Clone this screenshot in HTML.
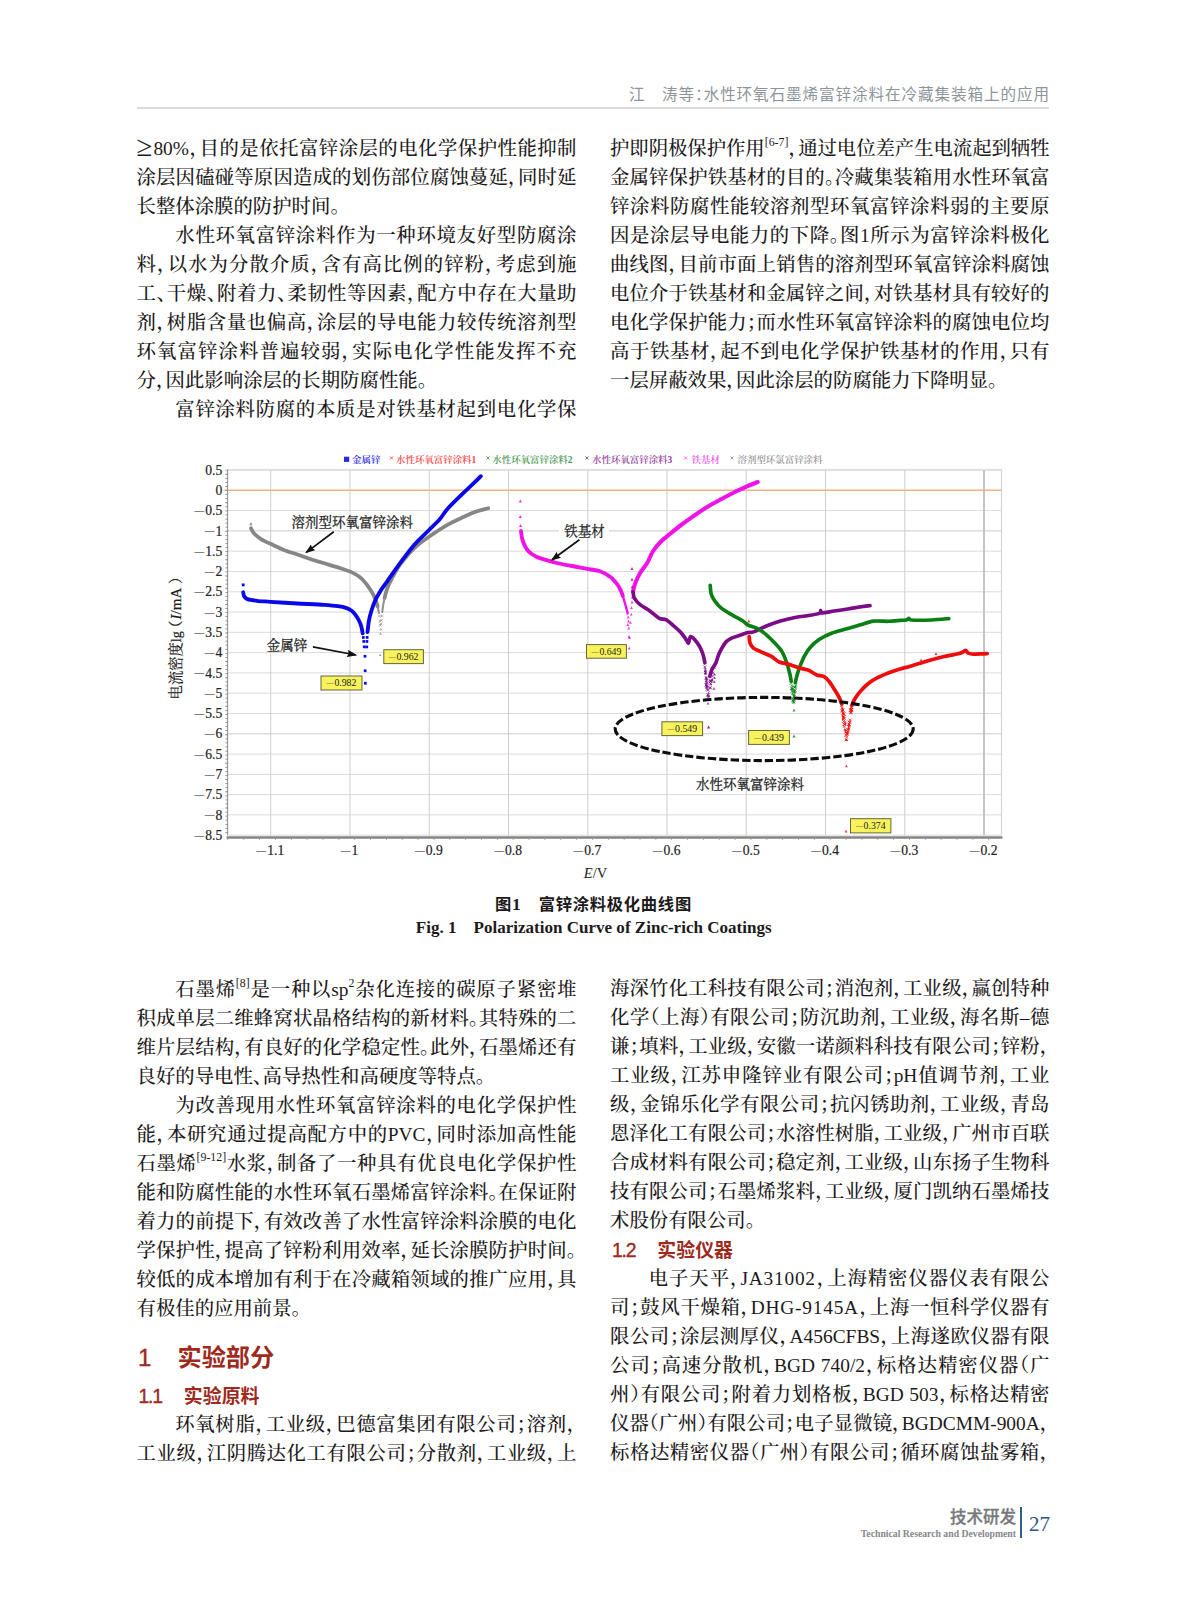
<!DOCTYPE html>
<html lang="zh-CN">
<head>
<meta charset="utf-8">
<title>水性环氧石墨烯富锌涂料在冷藏集装箱上的应用</title>
<style>
html,body{margin:0;padding:0;background:#fff;}
body{width:1187px;height:1600px;position:relative;overflow:hidden;font-family:"Liberation Serif","Noto Serif CJK SC",serif;color:#1d1a1b;}
.l{position:absolute;height:29px;line-height:29px;font-size:19.4px;white-space:nowrap;text-align:justify;text-align-last:justify;font-feature-settings:"halt";font-weight:500;}
.l.e{text-align:left;text-align-last:left;}
.l sup{font-size:11.9px;line-height:0;vertical-align:9.3px;letter-spacing:0;font-weight:400}
.hd{position:absolute;font-family:"Liberation Sans","Noto Sans CJK SC",sans-serif;white-space:nowrap;}
.red{color:#9e2a1d;font-weight:700;}
.red .n{font-weight:400;-webkit-text-stroke:0.35px #9e2a1d;}
</style>
</head>
<body>
<div class="hd" style="left:629px;top:83.8px;width:420px;height:22px;line-height:22px;font-size:15.6px;font-weight:400;color:#8d959b;text-align:justify;text-align-last:justify;font-feature-settings:'halt';">江　涛等：水性环氧石墨烯富锌涂料在冷藏集装箱上的应用</div>
<div style="position:absolute;left:137px;top:107px;width:912px;height:1.6px;background:#d9dadb"></div>
<div class="l" style="left:136.5px;top:134.0px;width:440.0px"><span style="font-size:29px;line-height:1px;vertical-align:-0.5px;margin-right:1px">≥</span>80%，目的是依托富锌涂层的电化学保护性能抑制</div>
<div class="l" style="left:136.5px;top:163.0px;width:440.0px">涂层因磕碰等原因造成的划伤部位腐蚀蔓延，同时延</div>
<div class="l e" style="left:136.5px;top:192.0px;width:440.0px">长整体涂膜的防护时间。</div>
<div class="l" style="left:175.3px;top:221.0px;width:401.2px">水性环氧富锌涂料作为一种环境友好型防腐涂</div>
<div class="l" style="left:136.5px;top:250.0px;width:440.0px">料，以水为分散介质，含有高比例的锌粉，考虑到施</div>
<div class="l" style="left:136.5px;top:279.0px;width:440.0px">工、干燥、附着力、柔韧性等因素，配方中存在大量助</div>
<div class="l" style="left:136.5px;top:308.0px;width:440.0px">剂，树脂含量也偏高，涂层的导电能力较传统溶剂型</div>
<div class="l" style="left:136.5px;top:337.0px;width:440.0px">环氧富锌涂料普遍较弱，实际电化学性能发挥不充</div>
<div class="l e" style="left:136.5px;top:366.0px;width:440.0px">分，因此影响涂层的长期防腐性能。</div>
<div class="l" style="left:175.3px;top:395.0px;width:401.2px">富锌涂料防腐的本质是对铁基材起到电化学保</div>
<div class="l" style="left:610.0px;top:134.0px;width:439.5px"><span style="letter-spacing:-0.08px">护即阴极保护作用<sup>[6-7]</sup>，通过电位差产生电流起到牺牲</span></div>
<div class="l" style="left:610.0px;top:163.0px;width:439.5px">金属锌保护铁基材的目的。冷藏集装箱用水性环氧富</div>
<div class="l" style="left:610.0px;top:192.0px;width:439.5px">锌涂料防腐性能较溶剂型环氧富锌涂料弱的主要原</div>
<div class="l" style="left:610.0px;top:221.0px;width:439.5px">因是涂层导电能力的下降。图1所示为富锌涂料极化</div>
<div class="l" style="left:610.0px;top:250.0px;width:439.5px">曲线图，目前市面上销售的溶剂型环氧富锌涂料腐蚀</div>
<div class="l" style="left:610.0px;top:279.0px;width:439.5px">电位介于铁基材和金属锌之间，对铁基材具有较好的</div>
<div class="l" style="left:610.0px;top:308.0px;width:439.5px">电化学保护能力；而水性环氧富锌涂料的腐蚀电位均</div>
<div class="l" style="left:610.0px;top:337.0px;width:439.5px">高于铁基材，起不到电化学保护铁基材的作用，只有</div>
<div class="l e" style="left:610.0px;top:366.0px;width:439.5px">一层屏蔽效果，因此涂层的防腐能力下降明显。</div>
<div class="l" style="left:175.3px;top:975.0px;width:401.2px">石墨烯<sup>[8]</sup>是一种以sp<sup>2</sup>杂化连接的碳原子紧密堆</div>
<div class="l" style="left:136.5px;top:1004.0px;width:440.0px">积成单层二维蜂窝状晶格结构的新材料。其特殊的二</div>
<div class="l" style="left:136.5px;top:1033.0px;width:440.0px">维片层结构，有良好的化学稳定性。此外，石墨烯还有</div>
<div class="l e" style="left:136.5px;top:1062.0px;width:440.0px">良好的导电性、高导热性和高硬度等特点。</div>
<div class="l" style="left:175.3px;top:1091.0px;width:401.2px">为改善现用水性环氧富锌涂料的电化学保护性</div>
<div class="l" style="left:136.5px;top:1120.0px;width:440.0px">能，本研究通过提高配方中的PVC，同时添加高性能</div>
<div class="l" style="left:136.5px;top:1149.0px;width:440.0px">石墨烯<sup>[9-12]</sup>水浆，制备了一种具有优良电化学保护性</div>
<div class="l" style="left:136.5px;top:1178.0px;width:440.0px">能和防腐性能的水性环氧石墨烯富锌涂料。在保证附</div>
<div class="l" style="left:136.5px;top:1207.0px;width:440.0px">着力的前提下，有效改善了水性富锌涂料涂膜的电化</div>
<div class="l" style="left:136.5px;top:1236.0px;width:440.0px">学保护性，提高了锌粉利用效率，延长涂膜防护时间。</div>
<div class="l" style="left:136.5px;top:1265.0px;width:440.0px">较低的成本增加有利于在冷藏箱领域的推广应用，具</div>
<div class="l e" style="left:136.5px;top:1294.0px;width:440.0px">有极佳的应用前景。</div>
<div class="hd red" style="left:138px;top:1341px;height:34px;line-height:34px;font-size:24.2px;"><span class="n">1</span><span style="display:inline-block;width:26px"></span>实验部分</div>
<div class="hd red" style="left:138.5px;top:1381.5px;height:28px;line-height:28px;font-size:18.9px;"><span class="n" style="font-size:19.4px;letter-spacing:-1.2px">1.1</span><span style="display:inline-block;width:22px"></span>实验原料</div>
<div class="l" style="left:175.3px;top:1410.0px;width:401.2px">环氧树脂，工业级，巴德富集团有限公司；溶剂，</div>
<div class="l" style="left:136.5px;top:1439.0px;width:440.0px">工业级，江阴腾达化工有限公司；分散剂，工业级，上</div>
<div class="l" style="left:610.0px;top:974.0px;width:439.5px">海深竹化工科技有限公司；消泡剂，工业级，赢创特种</div>
<div class="l" style="left:610.0px;top:1003.0px;width:439.5px">化学（上海）有限公司；防沉助剂，工业级，海名斯–德</div>
<div class="l" style="left:610.0px;top:1032.0px;width:439.5px">谦；填料，工业级，安徽一诺颜料科技有限公司；锌粉，</div>
<div class="l" style="left:610.0px;top:1061.0px;width:439.5px">工业级，江苏申隆锌业有限公司；pH值调节剂，工业</div>
<div class="l" style="left:610.0px;top:1090.0px;width:439.5px">级，金锦乐化学有限公司；抗闪锈助剂，工业级，青岛</div>
<div class="l" style="left:610.0px;top:1119.0px;width:439.5px">恩泽化工有限公司；水溶性树脂，工业级，广州市百联</div>
<div class="l" style="left:610.0px;top:1148.0px;width:439.5px">合成材料有限公司；稳定剂，工业级，山东扬子生物科</div>
<div class="l" style="left:610.0px;top:1177.0px;width:439.5px">技有限公司；石墨烯浆料，工业级，厦门凯纳石墨烯技</div>
<div class="l e" style="left:610.0px;top:1206.0px;width:439.5px">术股份有限公司。</div>
<div class="hd red" style="left:612px;top:1235.5px;height:28px;line-height:28px;font-size:18.9px;"><span class="n" style="font-size:19.4px;letter-spacing:-1.2px">1.2</span><span style="display:inline-block;width:22px"></span>实验仪器</div>
<div class="l" style="left:648.8px;top:1264.0px;width:400.7px">电子天平，<span style="letter-spacing:0.75px">JA31002</span>，上海精密仪器仪表有限公</div>
<div class="l" style="left:610.0px;top:1293.0px;width:439.5px">司；鼓风干燥箱，<span style="letter-spacing:0.75px">DHG-9145A</span>，上海一恒科学仪器有</div>
<div class="l" style="left:610.0px;top:1322.0px;width:439.5px">限公司；涂层测厚仪，A456CFBS，上海遂欧仪器有限</div>
<div class="l" style="left:610.0px;top:1351.0px;width:439.5px">公司；高速分散机，BGD 740/2，标格达精密仪器（广</div>
<div class="l" style="left:610.0px;top:1380.0px;width:439.5px">州）有限公司；附着力划格板，BGD 503，标格达精密</div>
<div class="l" style="left:610.0px;top:1409.0px;width:439.5px">仪器（广州）有限公司；电子显微镜，BGDCMM-900A，</div>
<div class="l" style="left:610.0px;top:1438.0px;width:439.5px">标格达精密仪器（广州）有限公司；循环腐蚀盐雾箱，</div>
<div class="hd" style="left:393.5px;top:892px;width:400px;text-align:center;height:24px;line-height:24px;font-size:16.3px;letter-spacing:0.75px;font-weight:700;color:#1d1a1b">图<span style="font-family:'Liberation Serif',serif;font-size:17.5px">1</span>　富锌涂料极化曲线图</div>
<div style="position:absolute;left:343.7px;top:916px;width:500px;text-align:center;height:24px;line-height:24px;font-size:17.05px;font-weight:700;white-space:nowrap">Fig. 1　Polarization Curve of Zinc-rich Coatings</div>
<div class="hd" style="left:916px;top:1504.5px;width:100px;text-align:right;height:24px;line-height:24px;font-size:16.5px;font-weight:500;color:#77797c;-webkit-text-stroke:0.3px #77797c">技术研发</div>
<div style="position:absolute;left:1020px;top:1507px;width:2px;height:31px;background:#2f5f8f"></div>
<div style="position:absolute;left:1029px;top:1511px;height:26px;line-height:26px;font-size:21px;color:#2f5582">27</div>
<svg width="1187" height="1600" viewBox="0 0 1187 1600" style="position:absolute;left:0;top:0;pointer-events:none">
<defs><marker id="ah" markerWidth="10" markerHeight="8" refX="8.5" refY="4" orient="auto" markerUnits="userSpaceOnUse"><path d="M0,0.4 L10,4 L0,7.6 L1.2,4 Z" fill="#111"/></marker></defs>
<g shape-rendering="auto"><line x1="227.5" y1="470.0" x2="1001.5" y2="470.0" stroke="#dbdbdb" stroke-width="1"/><line x1="227.5" y1="510.6" x2="1001.5" y2="510.6" stroke="#dbdbdb" stroke-width="1"/><line x1="227.5" y1="530.9" x2="1001.5" y2="530.9" stroke="#cbcbcb" stroke-width="1"/><line x1="227.5" y1="551.2" x2="1001.5" y2="551.2" stroke="#dbdbdb" stroke-width="1"/><line x1="227.5" y1="571.5" x2="1001.5" y2="571.5" stroke="#dbdbdb" stroke-width="1"/><line x1="227.5" y1="591.8" x2="1001.5" y2="591.8" stroke="#dbdbdb" stroke-width="1"/><line x1="227.5" y1="612.0" x2="1001.5" y2="612.0" stroke="#dbdbdb" stroke-width="1"/><line x1="227.5" y1="632.3" x2="1001.5" y2="632.3" stroke="#dbdbdb" stroke-width="1"/><line x1="227.5" y1="652.6" x2="1001.5" y2="652.6" stroke="#dbdbdb" stroke-width="1"/><line x1="227.5" y1="672.9" x2="1001.5" y2="672.9" stroke="#dbdbdb" stroke-width="1"/><line x1="227.5" y1="693.2" x2="1001.5" y2="693.2" stroke="#dbdbdb" stroke-width="1"/><line x1="227.5" y1="713.5" x2="1001.5" y2="713.5" stroke="#dbdbdb" stroke-width="1"/><line x1="227.5" y1="733.8" x2="1001.5" y2="733.8" stroke="#cbcbcb" stroke-width="1"/><line x1="227.5" y1="754.1" x2="1001.5" y2="754.1" stroke="#dbdbdb" stroke-width="1"/><line x1="227.5" y1="774.4" x2="1001.5" y2="774.4" stroke="#dbdbdb" stroke-width="1"/><line x1="227.5" y1="794.6" x2="1001.5" y2="794.6" stroke="#dbdbdb" stroke-width="1"/><line x1="227.5" y1="814.9" x2="1001.5" y2="814.9" stroke="#dbdbdb" stroke-width="1"/><line x1="227.5" y1="835.2" x2="1001.5" y2="835.2" stroke="#dbdbdb" stroke-width="1"/><line x1="270.7" y1="469.8" x2="270.7" y2="835.3" stroke="#cdcdcd" stroke-width="1"/><line x1="350.0" y1="469.8" x2="350.0" y2="835.3" stroke="#cdcdcd" stroke-width="1"/><line x1="429.2" y1="469.8" x2="429.2" y2="835.3" stroke="#cdcdcd" stroke-width="1"/><line x1="508.5" y1="469.8" x2="508.5" y2="835.3" stroke="#cdcdcd" stroke-width="1"/><line x1="587.8" y1="469.8" x2="587.8" y2="835.3" stroke="#cdcdcd" stroke-width="1"/><line x1="667.0" y1="469.8" x2="667.0" y2="835.3" stroke="#cdcdcd" stroke-width="1"/><line x1="746.2" y1="469.8" x2="746.2" y2="835.3" stroke="#cdcdcd" stroke-width="1"/><line x1="825.5" y1="469.8" x2="825.5" y2="835.3" stroke="#cdcdcd" stroke-width="1"/><line x1="904.8" y1="469.8" x2="904.8" y2="835.3" stroke="#cdcdcd" stroke-width="1"/><line x1="984.0" y1="469.8" x2="984.0" y2="835.3" stroke="#bbbbbb" stroke-width="1.7"/><line x1="1001.5" y1="469.8" x2="1001.5" y2="835.3" stroke="#d6d6d6" stroke-width="1.3"/><line x1="227.5" y1="469.8" x2="1001.5" y2="469.8" stroke="#d9d9d9" stroke-width="1.3"/><line x1="224.5" y1="490.3" x2="1001.5" y2="490.3" stroke="#f3b183" stroke-width="1.6"/><line x1="227.5" y1="469.8" x2="227.5" y2="835.3" stroke="#9a9a9a" stroke-width="1.2"/><line x1="227.5" y1="469.8" x2="227.5" y2="835.3" stroke="#8c8c8c" stroke-width="3" stroke-dasharray="0.8 3.27" transform="translate(-0.8,0)"/><line x1="226.5" y1="837.5" x2="1002.5" y2="837.5" stroke="#858585" stroke-width="2.4"/><line x1="227.5" y1="839.3" x2="1001.5" y2="839.3" stroke="#9a9a9a" stroke-width="1.6" stroke-dasharray="0.8 15.05"/></g>
<g>
<rect x="249.7" y="523.1" width="2.4" height="2.4" fill="#a0a0a0"/>
<path d="M251.0,528.3 C251.3,528.9 252.3,531.6 253.6,533.0 C254.9,534.4 258.8,537.7 261.0,539.1 C263.2,540.5 267.3,542.4 270.4,543.8 C273.5,545.2 280.3,548.5 283.9,549.9 C287.5,551.3 293.8,553.3 297.4,554.6 C301.0,555.9 307.3,558.1 310.9,559.3 C314.5,560.5 320.7,562.2 324.3,563.3 C327.9,564.4 334.2,566.2 337.8,567.4 C341.4,568.6 348.4,570.8 351.3,572.1 C354.2,573.4 357.4,575.3 359.4,576.8 C361.4,578.3 364.5,581.6 366.1,583.6 C367.7,585.6 370.2,589.5 371.5,591.6 C372.8,593.7 374.8,597.7 375.6,599.7 C376.4,601.7 377.3,605.6 377.6,606.5" fill="none" stroke="#868686" stroke-width="3.75" stroke-linecap="round" stroke-linejoin="round"/>
<path d="M384.6,598.0 C384.9,596.7 386.0,591.6 387.2,588.5 C388.4,585.4 392.1,577.9 393.9,574.6 C395.7,571.3 397.9,567.3 400.6,563.8 C403.3,560.3 410.3,551.9 414.1,548.3 C417.9,544.7 424.5,539.9 429.0,536.8 C433.5,533.7 443.5,527.2 447.8,524.7 C452.1,522.2 457.7,519.7 461.3,518.0 C464.9,516.3 471.2,513.2 474.8,511.9 C478.4,510.6 486.4,508.7 488.2,508.2" fill="none" stroke="#868686" stroke-width="3.75" stroke-linecap="round" stroke-linejoin="round"/>
<path d="M382.3,612.0 C382.4,611.1 382.9,606.9 383.2,605.0 C383.5,603.1 384.4,598.9 384.6,598.0" fill="none" stroke="#8f8f8f" stroke-width="2.0" stroke-linecap="round" stroke-linejoin="round"/>
<path d="M377.6,606.5 C377.7,607.0 378.3,609.6 378.5,610.5 C378.7,611.4 378.8,612.7 378.9,613.0" fill="none" stroke="#8f8f8f" stroke-width="2.0" stroke-linecap="round" stroke-linejoin="round"/>
<path d="M378.0,614.7L380.6,617.3M378.0,617.3L380.6,614.7M378.6,619.7L381.2,622.3M378.6,622.3L381.2,619.7M379.0,624.0L381.6,626.6M379.0,626.6L381.6,624.0M380.5,614.7L383.1,617.3M380.5,617.3L383.1,614.7M380.1,619.2L382.7,621.8M380.1,621.8L382.7,619.2M379.9,622.7L382.5,625.3M379.9,625.3L382.5,622.7" stroke="#8d8d8d" stroke-width="0.85" fill="none" opacity="0.8"/>
<path d="M379.2,634.7 L380.5,632.1 L381.8,634.7 Z" fill="#8d8d8d" opacity="0.8"/><path d="M378.9,656.1 L380.2,653.5 L381.5,656.1 Z" fill="#8d8d8d" opacity="0.8"/><path d="M379.6,630.3 L380.9,627.7 L382.2,630.3 Z" fill="#8d8d8d" opacity="0.8"/>
<rect x="241.8" y="583.5" width="2.8" height="2.8" fill="#0a08e6"/>
<path d="M243.2,592.3 C243.3,592.8 243.6,595.5 244.2,596.4 C244.8,597.3 245.8,598.5 247.5,599.1 C249.2,599.7 253.9,600.4 257.0,600.8 C260.1,601.2 265.0,601.4 270.4,601.8 C275.8,602.2 290.2,603.1 297.4,603.5 C304.6,603.9 318.9,604.5 324.3,604.9 C329.7,605.3 334.9,605.8 337.8,606.2 C340.7,606.6 344.1,607.2 345.9,607.8 C347.7,608.4 350.0,609.6 351.3,610.5 C352.6,611.4 354.3,613.3 355.3,614.6 C356.3,615.9 357.9,618.4 358.7,620.0 C359.5,621.6 360.9,624.9 361.4,626.7 C361.9,628.5 362.5,632.5 362.7,633.4" fill="none" stroke="#0a08e6" stroke-width="3.85" stroke-linecap="round" stroke-linejoin="round"/>
<path d="M367.5,632.1 C367.7,630.7 368.3,624.2 368.8,621.3 C369.3,618.4 370.6,613.4 371.5,610.5 C372.4,607.6 374.3,602.4 375.6,599.7 C376.9,597.0 379.4,592.8 380.9,590.3 C382.4,587.8 384.6,585.0 387.2,581.3 C389.8,577.6 397.0,567.3 400.6,562.4 C404.2,557.5 410.3,549.2 414.1,544.9 C417.9,540.6 425.6,533.4 429.0,530.0 C432.4,526.6 437.2,522.2 439.7,519.3 C442.2,516.4 444.9,511.7 447.8,508.5 C450.7,505.3 457.7,498.5 461.3,495.0 C464.9,491.5 472.2,484.7 474.8,482.2 C477.4,479.7 480.0,477.0 480.8,476.2" fill="none" stroke="#0a08e6" stroke-width="3.85" stroke-linecap="round" stroke-linejoin="round"/>
<rect x="362.0" y="636.1" width="2.7" height="2.7" fill="#0a08e6"/><rect x="362.4" y="640.1" width="2.7" height="2.7" fill="#0a08e6"/><rect x="362.9" y="645.5" width="2.7" height="2.7" fill="#0a08e6"/><rect x="363.6" y="654.9" width="2.7" height="2.7" fill="#0a08e6"/><rect x="363.8" y="669.4" width="2.7" height="2.7" fill="#0a08e6"/><rect x="364.0" y="681.9" width="2.7" height="2.7" fill="#0a08e6"/><rect x="365.8" y="636.1" width="2.7" height="2.7" fill="#0a08e6"/><rect x="365.6" y="640.1" width="2.7" height="2.7" fill="#0a08e6"/><rect x="365.4" y="645.6" width="2.7" height="2.7" fill="#0a08e6"/>
<path d="M518.8,502.5 L520.3,499.5 L521.8,502.5 Z" fill="#f012e6" opacity="0.9"/><path d="M518.8,518.0 L520.3,515.0 L521.8,518.0 Z" fill="#f012e6" opacity="0.9"/><path d="M519.0,526.9 L520.5,523.9 L522.0,526.9 Z" fill="#f012e6" opacity="0.9"/>
<path d="M521.0,531.0 C521.1,531.9 521.6,536.3 522.0,538.0 C522.4,539.7 523.1,542.1 523.8,543.6 C524.5,545.1 526.0,548.2 527.0,549.5 C528.0,550.8 530.2,552.8 531.4,553.7 C532.6,554.6 534.7,555.8 536.0,556.5 C537.3,557.2 538.7,557.8 541.5,558.7 C544.3,559.6 552.6,562.0 556.7,563.0 C560.8,564.0 568.0,565.2 572.0,566.0 C576.0,566.8 583.3,568.1 587.0,568.8 C590.7,569.5 596.8,570.1 600.0,571.2 C603.2,572.3 608.5,575.4 610.8,577.2 C613.1,579.0 616.1,582.8 617.5,584.6 C618.9,586.4 620.3,589.5 621.0,591.0 C621.7,592.5 622.6,595.3 622.8,596.0" fill="none" stroke="#f012e6" stroke-width="3.85" stroke-linecap="round" stroke-linejoin="round"/>
<path d="M622.8,596.0 C623.0,596.7 623.9,599.7 624.3,601.0 C624.7,602.3 625.3,604.3 625.6,605.5 C625.9,606.7 626.5,608.9 626.8,610.0 C627.1,611.1 627.5,613.0 627.6,613.5" fill="none" stroke="#f012e6" stroke-width="2.4" stroke-linecap="round" stroke-linejoin="round"/>
<path d="M633.0,591.4 C633.4,590.1 634.7,584.5 635.7,582.0 C636.7,579.5 638.9,575.0 640.4,572.5 C641.9,570.0 645.5,565.8 647.2,563.0 C648.9,560.2 651.0,554.4 652.8,551.5 C654.6,548.6 658.6,543.9 661.0,541.5 C663.4,539.1 667.6,535.9 670.5,533.5 C673.4,531.1 679.6,526.0 683.0,523.5 C686.4,521.0 692.5,516.8 695.8,514.5 C699.1,512.2 704.6,508.5 708.0,506.5 C711.4,504.5 717.7,501.1 721.0,499.3 C724.3,497.5 729.6,494.7 733.0,493.0 C736.4,491.3 743.1,488.2 746.4,486.7 C749.7,485.2 756.2,482.6 757.7,482.0" fill="none" stroke="#f012e6" stroke-width="4.05" stroke-linecap="round" stroke-linejoin="round"/>
<path d="M626.9,618.4 L628.2,615.6 L629.6,618.4 Z" fill="#f012e6" opacity="0.85"/><path d="M627.1,622.4 L628.5,619.6 L629.9,622.4 Z" fill="#f012e6" opacity="0.85"/><path d="M626.5,625.9 L627.9,623.1 L629.2,625.9 Z" fill="#f012e6" opacity="0.85"/><path d="M627.4,629.4 L628.8,626.6 L630.1,629.4 Z" fill="#f012e6" opacity="0.85"/><path d="M627.6,637.9 L629.0,635.1 L630.4,637.9 Z" fill="#f012e6" opacity="0.85"/><path d="M628.2,638.9 L629.6,636.1 L631.0,638.9 Z" fill="#f012e6" opacity="0.85"/><path d="M627.9,649.4 L629.2,646.6 L630.6,649.4 Z" fill="#f012e6" opacity="0.85"/><path d="M629.1,623.8 L630.5,621.0 L631.9,623.8 Z" fill="#f012e6" opacity="0.85"/><path d="M629.9,615.6 L631.3,612.9 L632.6,615.6 Z" fill="#f012e6" opacity="0.85"/><path d="M630.1,609.0 L631.5,606.2 L632.9,609.0 Z" fill="#f012e6" opacity="0.85"/><path d="M630.6,603.4 L632.0,600.6 L633.4,603.4 Z" fill="#f012e6" opacity="0.85"/><path d="M630.9,598.4 L632.3,595.6 L633.6,598.4 Z" fill="#f012e6" opacity="0.85"/>
<path d="M630.5,570.0 L632.0,567.0 L633.5,570.0 Z" fill="#a818a8" opacity="0.9"/><path d="M630.5,580.8 L632.0,577.8 L633.5,580.8 Z" fill="#a818a8" opacity="0.9"/><path d="M630.7,588.2 L632.2,585.2 L633.7,588.2 Z" fill="#a818a8" opacity="0.9"/>
<path d="M633.0,592.0 C633.2,592.8 633.4,596.4 634.4,598.1 C635.4,599.8 638.3,603.2 640.4,604.9 C642.5,606.6 647.4,609.1 649.9,610.9 C652.4,612.7 657.2,617.1 659.3,618.3 C661.4,619.5 664.2,618.7 666.0,619.6 C667.8,620.5 670.8,623.4 672.8,625.1 C674.8,626.8 679.1,630.5 680.9,632.5 C682.7,634.5 685.3,638.5 686.3,639.9 C687.3,641.3 687.9,643.3 688.3,643.3 C688.7,643.3 689.1,640.9 689.4,640.0 C689.7,639.1 689.9,636.6 690.6,636.5 C691.3,636.4 693.1,637.9 694.3,639.2 C695.5,640.5 698.5,644.5 699.7,646.6 C700.9,648.7 702.4,652.5 703.1,654.7 C703.8,656.9 704.7,661.7 704.9,662.8" fill="none" stroke="#7b0b86" stroke-width="3.6500000000000004" stroke-linecap="round" stroke-linejoin="round"/>
<path d="M709.8,676.3 C710.1,675.4 711.1,671.4 711.9,669.6 C712.7,667.8 715.0,664.8 715.9,662.8 C716.8,660.8 717.8,656.7 718.6,654.7 C719.4,652.7 721.0,649.7 722.0,648.0 C723.0,646.3 724.7,643.2 726.0,641.9 C727.3,640.6 730.2,638.8 732.1,637.9 C734.0,637.0 738.1,635.9 740.2,635.2 C742.3,634.5 746.4,632.9 748.2,632.5 C750.0,632.1 751.0,632.8 753.5,631.9 C756.0,631.0 763.4,627.2 767.0,625.8 C770.6,624.4 776.8,622.2 780.4,621.1 C784.0,620.0 790.3,618.4 793.9,617.7 C797.5,617.0 804.0,616.3 807.4,615.7 C810.8,615.1 817.7,614.1 819.5,613.4 C821.3,612.7 820.3,610.7 820.6,610.6 C820.9,610.5 820.0,612.9 821.8,613.0 C823.6,613.1 830.8,611.5 834.3,611.0 C837.8,610.5 844.2,609.6 847.8,609.0 C851.4,608.4 858.3,607.2 861.3,606.7 C864.3,606.2 868.8,605.7 870.0,605.6" fill="none" stroke="#7b0b86" stroke-width="3.6500000000000004" stroke-linecap="round" stroke-linejoin="round"/>
<path d="M705.0,676.4L708.0,679.4M705.0,679.4L708.0,676.4M704.8,683.5L707.8,686.5M704.8,686.5L707.8,683.5M703.3,665.4L706.3,668.4M703.3,668.4L706.3,665.4M709.1,679.8L712.1,682.8M709.1,682.8L712.1,679.8M708.6,686.1L711.6,689.1M708.6,689.1L711.6,686.1M706.9,695.6L709.9,698.6M706.9,698.6L709.9,695.6M704.0,670.9L707.0,673.9M704.0,673.9L707.0,670.9M711.5,671.7L714.5,674.7M711.5,674.7L714.5,671.7M704.8,683.5L707.8,686.5M704.8,686.5L707.8,683.5M705.5,687.9L708.5,690.9M705.5,690.9L708.5,687.9M705.6,681.3L708.6,684.3M705.6,684.3L708.6,681.3M710.9,674.6L713.9,677.6M710.9,677.6L713.9,674.6M706.5,688.7L709.5,691.7M706.5,691.7L709.5,688.7M709.2,679.9L712.2,682.9M709.2,682.9L712.2,679.9M712.8,666.1L715.8,669.1M712.8,669.1L715.8,666.1M706.5,693.3L709.5,696.3M706.5,696.3L709.5,693.3M706.0,685.4L709.0,688.4M706.0,688.4L709.0,685.4M708.8,681.9L711.8,684.9M708.8,684.9L711.8,681.9M708.8,686.5L711.8,689.5M708.8,689.5L711.8,686.5M709.2,678.9L712.2,681.9M709.2,681.9L712.2,678.9" stroke="#7b0b86" stroke-width="0.85" fill="none" opacity="0.8"/>
<path d="M704.0,674.5 L705.3,671.9 L706.6,674.5 Z" fill="#7b0b86" opacity="0.8"/><path d="M704.3,673.2 L705.6,670.6 L706.9,673.2 Z" fill="#7b0b86" opacity="0.8"/><path d="M704.3,671.2 L705.6,668.6 L706.9,671.2 Z" fill="#7b0b86" opacity="0.8"/><path d="M707.3,694.3 L708.6,691.7 L709.9,694.3 Z" fill="#7b0b86" opacity="0.8"/><path d="M710.9,680.4 L712.2,677.8 L713.5,680.4 Z" fill="#7b0b86" opacity="0.8"/><path d="M704.2,674.5 L705.5,671.9 L706.8,674.5 Z" fill="#7b0b86" opacity="0.8"/><path d="M705.0,687.8 L706.3,685.2 L707.6,687.8 Z" fill="#7b0b86" opacity="0.8"/><path d="M710.9,681.4 L712.2,678.8 L713.5,681.4 Z" fill="#7b0b86" opacity="0.8"/><path d="M709.6,685.2 L710.9,682.6 L712.2,685.2 Z" fill="#7b0b86" opacity="0.8"/><path d="M707.7,697.0 L709.0,694.4 L710.3,697.0 Z" fill="#7b0b86" opacity="0.8"/><path d="M704.7,682.1 L706.0,679.5 L707.3,682.1 Z" fill="#7b0b86" opacity="0.8"/><path d="M703.8,669.5 L705.1,666.9 L706.4,669.5 Z" fill="#7b0b86" opacity="0.8"/><path d="M704.4,679.8 L705.7,677.2 L707.0,679.8 Z" fill="#7b0b86" opacity="0.8"/><path d="M703.7,672.0 L705.0,669.4 L706.3,672.0 Z" fill="#7b0b86" opacity="0.8"/><path d="M705.4,688.5 L706.7,685.9 L708.0,688.5 Z" fill="#7b0b86" opacity="0.8"/><path d="M705.6,681.6 L706.9,679.0 L708.2,681.6 Z" fill="#7b0b86" opacity="0.8"/><path d="M704.8,683.7 L706.1,681.1 L707.4,683.7 Z" fill="#7b0b86" opacity="0.8"/><path d="M705.5,679.9 L706.8,677.3 L708.1,679.9 Z" fill="#7b0b86" opacity="0.8"/><path d="M712.8,667.5 L714.1,664.9 L715.4,667.5 Z" fill="#7b0b86" opacity="0.8"/><path d="M705.7,687.1 L707.0,684.5 L708.3,687.1 Z" fill="#7b0b86" opacity="0.8"/>
<path d="M706.7,704.5 L708.0,701.9 L709.3,704.5 Z" fill="#7b0b86" opacity="0.8"/><path d="M706.2,696.5 L707.5,693.9 L708.8,696.5 Z" fill="#7b0b86" opacity="0.8"/><path d="M713.3,675.6 L714.6,673.0 L715.9,675.6 Z" fill="#7b0b86" opacity="0.8"/><path d="M713.3,678.9 L714.6,676.3 L715.9,678.9 Z" fill="#7b0b86" opacity="0.8"/><path d="M713.0,683.0 L714.3,680.4 L715.6,683.0 Z" fill="#7b0b86" opacity="0.8"/><path d="M712.7,689.7 L714.0,687.1 L715.3,689.7 Z" fill="#7b0b86" opacity="0.8"/><path d="M704.7,678.3 L706.0,675.7 L707.3,678.3 Z" fill="#7b0b86" opacity="0.8"/><path d="M705.2,685.7 L706.5,683.1 L707.8,685.7 Z" fill="#7b0b86" opacity="0.8"/>
<path d="M710.2,585.3 C710.3,586.5 710.6,592.0 711.2,594.1 C711.8,596.2 713.3,598.9 714.6,600.8 C715.9,602.7 719.0,606.3 721.3,608.2 C723.6,610.1 729.2,613.3 732.1,615.0 C735.0,616.7 740.8,619.7 742.9,621.0 C745.0,622.3 746.2,624.1 748.1,625.1 C750.0,626.1 755.0,627.1 757.5,628.5 C760.0,629.9 764.7,633.3 767.0,635.3 C769.3,637.3 773.0,641.2 775.0,643.3 C777.0,645.4 780.3,648.9 781.8,651.4 C783.3,653.9 785.4,659.1 786.5,662.2 C787.6,665.3 789.3,671.8 789.9,674.3 C790.5,676.8 791.0,680.2 791.2,681.1" fill="none" stroke="#0a7f14" stroke-width="3.6500000000000004" stroke-linecap="round" stroke-linejoin="round"/>
<path d="M795.3,682.4 C795.6,681.3 796.7,676.4 797.3,674.3 C797.9,672.2 799.1,668.6 800.0,666.3 C800.9,664.0 802.7,659.3 804.0,656.8 C805.3,654.3 808.0,649.7 810.1,647.4 C812.2,645.1 816.6,641.2 819.5,639.3 C822.4,637.4 827.8,634.6 831.6,633.2 C835.4,631.8 843.8,629.7 847.8,628.5 C851.8,627.3 857.9,625.5 861.3,624.5 C864.7,623.5 869.8,621.5 873.4,621.1 C877.0,620.7 884.7,621.4 888.2,621.3 C891.7,621.2 897.6,620.6 900.0,620.4 C902.4,620.2 905.2,620.3 906.4,620.0 C907.6,619.7 908.4,618.3 909.0,618.3 C909.6,618.3 908.0,619.8 911.0,620.0 C914.0,620.2 926.6,620.2 931.6,620.0 C936.6,619.8 946.5,618.8 948.8,618.6" fill="none" stroke="#0a7f14" stroke-width="3.6500000000000004" stroke-linecap="round" stroke-linejoin="round"/>
<path d="M791.7,698.1L794.7,701.1M791.7,701.1L794.7,698.1M793.4,685.6L796.4,688.6M793.4,688.6L796.4,685.6M791.0,689.3L794.0,692.3M791.0,692.3L794.0,689.3M792.5,698.4L795.5,701.4M792.5,701.4L795.5,698.4M793.1,686.0L796.1,689.0M793.1,689.0L796.1,686.0M789.5,681.9L792.5,684.9M789.5,684.9L792.5,681.9M792.3,700.4L795.3,703.4M792.3,703.4L795.3,700.4M791.3,699.4L794.3,702.4M791.3,702.4L794.3,699.4M790.4,686.4L793.4,689.4M790.4,689.4L793.4,686.4M791.7,698.3L794.7,701.3M791.7,701.3L794.7,698.3M794.2,683.6L797.2,686.6M794.2,686.6L797.2,683.6M790.9,696.7L793.9,699.7M790.9,699.7L793.9,696.7M793.7,688.7L796.7,691.7M793.7,691.7L796.7,688.7M793.2,689.7L796.2,692.7M793.2,692.7L796.2,689.7M790.7,684.7L793.7,687.7M790.7,687.7L793.7,684.7" stroke="#0a7f14" stroke-width="0.85" fill="none" opacity="0.8"/>
<path d="M794.3,687.8 L795.6,685.2 L796.9,687.8 Z" fill="#0a7f14" opacity="0.8"/><path d="M792.7,691.4 L794.0,688.8 L795.3,691.4 Z" fill="#0a7f14" opacity="0.8"/><path d="M792.1,703.4 L793.4,700.8 L794.7,703.4 Z" fill="#0a7f14" opacity="0.8"/><path d="M793.5,693.2 L794.8,690.6 L796.1,693.2 Z" fill="#0a7f14" opacity="0.8"/><path d="M790.2,690.0 L791.5,687.4 L792.8,690.0 Z" fill="#0a7f14" opacity="0.8"/><path d="M790.1,690.6 L791.4,688.0 L792.7,690.6 Z" fill="#0a7f14" opacity="0.8"/><path d="M790.9,692.5 L792.2,689.9 L793.5,692.5 Z" fill="#0a7f14" opacity="0.8"/><path d="M793.1,693.3 L794.4,690.7 L795.7,693.3 Z" fill="#0a7f14" opacity="0.8"/><path d="M791.1,694.8 L792.4,692.2 L793.7,694.8 Z" fill="#0a7f14" opacity="0.8"/><path d="M793.6,683.5 L794.9,680.9 L796.2,683.5 Z" fill="#0a7f14" opacity="0.8"/><path d="M792.2,698.8 L793.5,696.2 L794.8,698.8 Z" fill="#0a7f14" opacity="0.8"/><path d="M792.2,695.9 L793.5,693.3 L794.8,695.9 Z" fill="#0a7f14" opacity="0.8"/><path d="M791.0,689.9 L792.3,687.3 L793.6,689.9 Z" fill="#0a7f14" opacity="0.8"/><path d="M793.4,695.8 L794.7,693.2 L796.0,695.8 Z" fill="#0a7f14" opacity="0.8"/><path d="M792.7,697.0 L794.0,694.4 L795.3,697.0 Z" fill="#0a7f14" opacity="0.8"/>
<path d="M792.5,711.4 L793.9,708.6 L795.3,711.4 Z" fill="#0a7f14" opacity="0.8"/>
<path d="M747.3,622.6 L748.8,619.6 L750.3,622.6 Z" fill="#ee0d0d" opacity="0.8"/>
<path d="M749.2,636.6 C749.3,637.5 749.5,641.8 750.1,643.3 C750.7,644.8 752.0,646.9 753.5,648.1 C755.0,649.3 759.3,651.0 761.6,652.1 C763.9,653.2 768.7,654.8 771.0,656.1 C773.3,657.4 776.8,660.9 779.1,662.0 C781.4,663.1 785.6,663.4 788.5,664.2 C791.4,665.0 797.9,667.5 800.6,668.3 C803.3,669.1 806.5,669.4 808.7,670.3 C810.9,671.2 814.8,674.2 816.8,675.0 C818.8,675.8 822.0,675.6 823.6,676.4 C825.2,677.2 827.5,679.4 828.9,681.1 C830.3,682.8 832.9,687.0 834.3,689.2 C835.7,691.4 838.1,695.3 839.1,697.3 C840.1,699.3 841.4,703.1 841.8,704.0" fill="none" stroke="#ee0d0d" stroke-width="3.75" stroke-linecap="round" stroke-linejoin="round"/>
<path d="M851.9,705.3 C852.3,704.5 853.5,701.1 854.6,699.3 C855.7,697.5 858.1,694.0 859.9,691.9 C861.7,689.8 865.7,685.7 868.0,683.8 C870.3,681.9 874.8,679.1 877.5,677.7 C880.2,676.3 885.2,674.2 888.2,673.0 C891.2,671.8 897.6,669.7 900.0,669.0 C902.4,668.3 903.9,668.1 906.4,667.4 C908.9,666.7 915.6,664.5 919.0,663.5 C922.4,662.5 928.3,660.7 931.6,659.8 C934.9,658.9 940.6,657.3 944.0,656.5 C947.4,655.7 954.6,654.5 957.0,654.0 C959.4,653.5 960.8,653.0 962.0,652.5 C963.2,652.0 964.9,650.2 965.7,650.3 C966.5,650.4 967.2,652.5 968.0,653.0 C968.8,653.5 970.4,653.9 972.0,654.0 C973.6,654.1 978.0,653.9 980.0,653.8 C982.0,653.7 986.2,653.5 987.2,653.5" fill="none" stroke="#ee0d0d" stroke-width="3.75" stroke-linecap="round" stroke-linejoin="round"/>
<path d="M847.5,722.6L850.5,725.6M847.5,725.6L850.5,722.6M847.1,729.5L850.1,732.5M847.1,732.5L850.1,729.5M847.6,725.1L850.6,728.1M847.6,728.1L850.6,725.1M840.7,709.7L843.7,712.7M840.7,712.7L843.7,709.7M850.1,708.3L853.1,711.3M850.1,711.3L853.1,708.3M849.4,710.9L852.4,713.9M849.4,713.9L852.4,710.9M845.1,735.7L848.1,738.7M845.1,738.7L848.1,735.7M843.5,720.7L846.5,723.7M843.5,723.7L846.5,720.7M841.6,711.4L844.6,714.4M841.6,714.4L844.6,711.4M842.1,712.4L845.1,715.4M842.1,715.4L845.1,712.4M842.6,725.1L845.6,728.1M842.6,728.1L845.6,725.1M846.0,728.1L849.0,731.1M846.0,731.1L849.0,728.1M845.4,732.2L848.4,735.2M845.4,735.2L848.4,732.2M849.5,705.7L852.5,708.7M849.5,708.7L852.5,705.7M848.2,720.8L851.2,723.8M848.2,723.8L851.2,720.8M849.3,711.4L852.3,714.4M849.3,714.4L852.3,711.4M841.5,708.5L844.5,711.5M841.5,711.5L844.5,708.5M849.9,708.1L852.9,711.1M849.9,711.1L852.9,708.1M848.9,708.7L851.9,711.7M848.9,711.7L851.9,708.7M843.0,722.6L846.0,725.6M843.0,725.6L846.0,722.6M842.1,715.4L845.1,718.4M842.1,718.4L845.1,715.4M840.6,709.1L843.6,712.1M840.6,712.1L843.6,709.1M842.7,717.0L845.7,720.0M842.7,720.0L845.7,717.0M842.9,723.0L845.9,726.0M842.9,726.0L845.9,723.0M842.4,715.1L845.4,718.1M842.4,718.1L845.4,715.1M842.4,712.3L845.4,715.3M842.4,715.3L845.4,712.3M844.4,733.7L847.4,736.7M844.4,736.7L847.4,733.7M848.1,720.7L851.1,723.7M848.1,723.7L851.1,720.7M848.4,718.5L851.4,721.5M848.4,721.5L851.4,718.5M842.0,720.0L845.0,723.0M842.0,723.0L845.0,720.0" stroke="#ee0d0d" stroke-width="0.85" fill="none" opacity="0.85"/>
<path d="M849.5,710.1 L850.8,707.5 L852.1,710.1 Z" fill="#ee0d0d" opacity="0.85"/><path d="M850.4,711.4 L851.7,708.8 L853.0,711.4 Z" fill="#ee0d0d" opacity="0.85"/><path d="M842.0,719.0 L843.3,716.4 L844.6,719.0 Z" fill="#ee0d0d" opacity="0.85"/><path d="M841.4,714.8 L842.7,712.2 L844.0,714.8 Z" fill="#ee0d0d" opacity="0.85"/><path d="M845.0,741.1 L846.3,738.5 L847.6,741.1 Z" fill="#ee0d0d" opacity="0.85"/><path d="M841.7,719.9 L843.0,717.3 L844.3,719.9 Z" fill="#ee0d0d" opacity="0.85"/><path d="M847.2,725.6 L848.5,723.0 L849.8,725.6 Z" fill="#ee0d0d" opacity="0.85"/><path d="M840.1,706.7 L841.4,704.1 L842.7,706.7 Z" fill="#ee0d0d" opacity="0.85"/><path d="M840.7,708.7 L842.0,706.1 L843.3,708.7 Z" fill="#ee0d0d" opacity="0.85"/><path d="M847.5,729.3 L848.8,726.7 L850.1,729.3 Z" fill="#ee0d0d" opacity="0.85"/><path d="M846.3,732.9 L847.6,730.3 L848.9,732.9 Z" fill="#ee0d0d" opacity="0.85"/><path d="M845.6,741.0 L846.9,738.4 L848.2,741.0 Z" fill="#ee0d0d" opacity="0.85"/><path d="M850.7,709.3 L852.0,706.7 L853.3,709.3 Z" fill="#ee0d0d" opacity="0.85"/><path d="M845.9,733.7 L847.2,731.1 L848.5,733.7 Z" fill="#ee0d0d" opacity="0.85"/><path d="M848.0,726.9 L849.3,724.3 L850.6,726.9 Z" fill="#ee0d0d" opacity="0.85"/><path d="M847.4,729.3 L848.7,726.7 L850.0,729.3 Z" fill="#ee0d0d" opacity="0.85"/><path d="M841.5,716.9 L842.8,714.3 L844.1,716.9 Z" fill="#ee0d0d" opacity="0.85"/><path d="M849.7,712.2 L851.0,709.6 L852.3,712.2 Z" fill="#ee0d0d" opacity="0.85"/><path d="M846.9,729.8 L848.2,727.2 L849.5,729.8 Z" fill="#ee0d0d" opacity="0.85"/><path d="M846.2,735.6 L847.5,733.0 L848.8,735.6 Z" fill="#ee0d0d" opacity="0.85"/><path d="M844.4,731.1 L845.7,728.5 L847.0,731.1 Z" fill="#ee0d0d" opacity="0.85"/><path d="M841.6,710.3 L842.9,707.7 L844.2,710.3 Z" fill="#ee0d0d" opacity="0.85"/><path d="M846.4,733.7 L847.7,731.1 L849.0,733.7 Z" fill="#ee0d0d" opacity="0.85"/><path d="M848.0,725.9 L849.3,723.3 L850.6,725.9 Z" fill="#ee0d0d" opacity="0.85"/><path d="M843.4,730.6 L844.7,728.0 L846.0,730.6 Z" fill="#ee0d0d" opacity="0.85"/><path d="M844.4,733.3 L845.7,730.7 L847.0,733.3 Z" fill="#ee0d0d" opacity="0.85"/><path d="M841.5,710.2 L842.8,707.6 L844.1,710.2 Z" fill="#ee0d0d" opacity="0.85"/><path d="M844.1,731.8 L845.4,729.2 L846.7,731.8 Z" fill="#ee0d0d" opacity="0.85"/><path d="M843.8,725.0 L845.1,722.4 L846.4,725.0 Z" fill="#ee0d0d" opacity="0.85"/><path d="M844.6,740.6 L845.9,738.0 L847.2,740.6 Z" fill="#ee0d0d" opacity="0.85"/>
<path d="M845.0,767.2 L846.4,764.4 L847.8,767.2 Z" fill="#ee0d0d" opacity="0.8"/><path d="M844.6,832.4 L846.0,829.6 L847.4,832.4 Z" fill="#ee0d0d" opacity="0.8"/><path d="M934.6,654.9 L936.0,652.1 L937.4,654.9 Z" fill="#ee0d0d" opacity="0.8"/><path d="M919.6,661.4 L921.0,658.6 L922.4,661.4 Z" fill="#ee0d0d" opacity="0.8"/>
</g>
<ellipse cx="764.2" cy="729" rx="149" ry="31.6" fill="none" stroke="#0c0c0c" stroke-width="3.1" stroke-dasharray="8.4 3"/>
<path d="M707.0,728.6 L708.6,725.4 L710.2,728.6 Z" fill="#7b0b86" opacity="0.9"/>
<path d="M792.4,737.6 L794.0,734.4 L795.6,737.6 Z" fill="#0a7f14" opacity="0.8"/>
<g font-family="'Liberation Serif',serif"><rect x="383.8" y="649.7" width="39.6" height="13.9" fill="#f8f35c" stroke="#66663a" stroke-width="1"/><text x="403.6" y="659.9" text-anchor="middle" font-size="9.8" fill="#222"><tspan font-size="7" dy="-0.9">—</tspan><tspan dy="0.9" dx="0.8">0.962</tspan></text>
<rect x="321.0" y="676.0" width="41.0" height="14.0" fill="#f8f35c" stroke="#66663a" stroke-width="1"/><text x="341.5" y="686.3" text-anchor="middle" font-size="9.8" fill="#222"><tspan font-size="7" dy="-0.9">—</tspan><tspan dy="0.9" dx="0.8">0.982</tspan></text>
<rect x="586.5" y="644.6" width="39.9" height="13.6" fill="#f8f35c" stroke="#66663a" stroke-width="1"/><text x="606.5" y="654.5" text-anchor="middle" font-size="9.8" fill="#222"><tspan font-size="7" dy="-0.9">—</tspan><tspan dy="0.9" dx="0.8">0.649</tspan></text>
<rect x="661.9" y="721.8" width="40.7" height="13.8" fill="#f8f35c" stroke="#66663a" stroke-width="1"/><text x="682.2" y="731.9" text-anchor="middle" font-size="9.8" fill="#222"><tspan font-size="7" dy="-0.9">—</tspan><tspan dy="0.9" dx="0.8">0.549</tspan></text>
<rect x="748.6" y="730.5" width="40.8" height="13.9" fill="#f8f35c" stroke="#66663a" stroke-width="1"/><text x="769.0" y="740.7" text-anchor="middle" font-size="9.8" fill="#222"><tspan font-size="7" dy="-0.9">—</tspan><tspan dy="0.9" dx="0.8">0.439</tspan></text>
<rect x="850.5" y="818.7" width="40.4" height="14.2" fill="#f8f35c" stroke="#66663a" stroke-width="1"/><text x="870.7" y="829.2" text-anchor="middle" font-size="9.8" fill="#222"><tspan font-size="7" dy="-0.9">—</tspan><tspan dy="0.9" dx="0.8">0.374</tspan></text>
</g>
<line x1="333.8" y1="531.7" x2="306.3" y2="552.4" stroke="#111" stroke-width="1.7" marker-end="url(#ah)"/>
<line x1="312.9" y1="646.9" x2="355.8" y2="655" stroke="#111" stroke-width="1.7" marker-end="url(#ah)"/>
<line x1="579.4" y1="539.8" x2="552" y2="559.8" stroke="#111" stroke-width="1.7" marker-end="url(#ah)"/>
<rect x="559" y="524" width="50" height="14" fill="#fff"/><g font-family="'Liberation Serif','Noto Serif CJK SC',serif" font-size="13.5" fill="#1c1c1c" stroke="#1c1c1c" stroke-width="0.25"><text x="291.4" y="527">溶剂型环氧富锌涂料</text><text x="266.8" y="649.6">金属锌</text><text x="564.3" y="536">铁基材</text><text x="696" y="788.6">水性环氧富锌涂料</text></g>
<g font-family="'Liberation Serif','Noto Serif CJK SC',serif" font-size="13.6" fill="#222" stroke="#222" stroke-width="0.2" text-anchor="end"><text x="222.3" y="474.6">0.5</text><text x="222.3" y="494.9">0</text><text x="222.3" y="515.2"><tspan font-size="9.6" dy="-1.1">—</tspan><tspan dy="1.1" dx="1.2">0.5</tspan></text><text x="222.3" y="535.5"><tspan font-size="9.6" dy="-1.1">—</tspan><tspan dy="1.1" dx="1.2">1</tspan></text><text x="222.3" y="555.8"><tspan font-size="9.6" dy="-1.1">—</tspan><tspan dy="1.1" dx="1.2">1.5</tspan></text><text x="222.3" y="576.1"><tspan font-size="9.6" dy="-1.1">—</tspan><tspan dy="1.1" dx="1.2">2</tspan></text><text x="222.3" y="596.4"><tspan font-size="9.6" dy="-1.1">—</tspan><tspan dy="1.1" dx="1.2">2.5</tspan></text><text x="222.3" y="616.6"><tspan font-size="9.6" dy="-1.1">—</tspan><tspan dy="1.1" dx="1.2">3</tspan></text><text x="222.3" y="636.9"><tspan font-size="9.6" dy="-1.1">—</tspan><tspan dy="1.1" dx="1.2">3.5</tspan></text><text x="222.3" y="657.2"><tspan font-size="9.6" dy="-1.1">—</tspan><tspan dy="1.1" dx="1.2">4</tspan></text><text x="222.3" y="677.5"><tspan font-size="9.6" dy="-1.1">—</tspan><tspan dy="1.1" dx="1.2">4.5</tspan></text><text x="222.3" y="697.8"><tspan font-size="9.6" dy="-1.1">—</tspan><tspan dy="1.1" dx="1.2">5</tspan></text><text x="222.3" y="718.1"><tspan font-size="9.6" dy="-1.1">—</tspan><tspan dy="1.1" dx="1.2">5.5</tspan></text><text x="222.3" y="738.4"><tspan font-size="9.6" dy="-1.1">—</tspan><tspan dy="1.1" dx="1.2">6</tspan></text><text x="222.3" y="758.7"><tspan font-size="9.6" dy="-1.1">—</tspan><tspan dy="1.1" dx="1.2">6.5</tspan></text><text x="222.3" y="779.0"><tspan font-size="9.6" dy="-1.1">—</tspan><tspan dy="1.1" dx="1.2">7</tspan></text><text x="222.3" y="799.2"><tspan font-size="9.6" dy="-1.1">—</tspan><tspan dy="1.1" dx="1.2">7.5</tspan></text><text x="222.3" y="819.5"><tspan font-size="9.6" dy="-1.1">—</tspan><tspan dy="1.1" dx="1.2">8</tspan></text><text x="222.3" y="839.8"><tspan font-size="9.6" dy="-1.1">—</tspan><tspan dy="1.1" dx="1.2">8.5</tspan></text></g>
<g font-family="'Liberation Serif','Noto Serif CJK SC',serif" font-size="13.6" fill="#222" stroke="#222" stroke-width="0.2" text-anchor="middle"><text x="270.3" y="855"><tspan font-size="9.6" dy="-1.1">—</tspan><tspan dy="1.1" dx="1.2">1.1</tspan></text><text x="349.6" y="855"><tspan font-size="9.6" dy="-1.1">—</tspan><tspan dy="1.1" dx="1.2">1</tspan></text><text x="428.8" y="855"><tspan font-size="9.6" dy="-1.1">—</tspan><tspan dy="1.1" dx="1.2">0.9</tspan></text><text x="508.1" y="855"><tspan font-size="9.6" dy="-1.1">—</tspan><tspan dy="1.1" dx="1.2">0.8</tspan></text><text x="587.4" y="855"><tspan font-size="9.6" dy="-1.1">—</tspan><tspan dy="1.1" dx="1.2">0.7</tspan></text><text x="666.6" y="855"><tspan font-size="9.6" dy="-1.1">—</tspan><tspan dy="1.1" dx="1.2">0.6</tspan></text><text x="745.9" y="855"><tspan font-size="9.6" dy="-1.1">—</tspan><tspan dy="1.1" dx="1.2">0.5</tspan></text><text x="825.1" y="855"><tspan font-size="9.6" dy="-1.1">—</tspan><tspan dy="1.1" dx="1.2">0.4</tspan></text><text x="904.4" y="855"><tspan font-size="9.6" dy="-1.1">—</tspan><tspan dy="1.1" dx="1.2">0.3</tspan></text><text x="983.6" y="855"><tspan font-size="9.6" dy="-1.1">—</tspan><tspan dy="1.1" dx="1.2">0.2</tspan></text></g>
<text x="595.5" y="877.5" font-family="'Liberation Serif','Noto Serif CJK SC',serif" font-size="14.5" fill="#222" text-anchor="middle"><tspan font-style="italic">E</tspan>/V</text>
<text transform="translate(181.3,699.4) rotate(-90)" font-family="'Liberation Serif','Noto Serif CJK SC',serif" font-size="14.3" fill="#1c1c1c" stroke="#1c1c1c" stroke-width="0.2" text-anchor="start">电流密度lg<tspan dx="-3.8">（</tspan><tspan font-style="italic" dx="1.2" font-size="15">I</tspan><tspan font-size="15">/mA</tspan><tspan dx="3.6">）</tspan></text>
<g font-family="'Liberation Serif','Noto Serif CJK SC',serif" font-size="9.45" font-weight="600"><rect x="344.0" y="456.7" width="5.2" height="5.2" fill="#2a28e6"/><text x="352" y="462.8" fill="#2a28e6">金属锌</text><path d="M390.0,456.5 L393.0,459.5 M390.0,459.5 L393.0,456.5" stroke="#f04a4a" stroke-width="0.9" fill="none"/><text x="396" y="462.8" fill="#f04a4a">水性环氧富锌涂料1</text><path d="M486.5,456.5 L489.5,459.5 M486.5,459.5 L489.5,456.5" stroke="#4a9a55" stroke-width="0.9" fill="none"/><text x="492.3" y="462.8" fill="#4a9a55">水性环氧富锌涂料2</text><path d="M585.5,456.5 L588.5,459.5 M585.5,459.5 L588.5,456.5" stroke="#96469e" stroke-width="0.9" fill="none"/><text x="592" y="462.8" fill="#96469e">水性环氧富锌涂料3</text><path d="M684.2,456.5 L687.2,459.5 M684.2,459.5 L687.2,456.5" stroke="#f25aea" stroke-width="0.9" fill="none"/><text x="691.5" y="462.8" fill="#f25aea">铁基材</text><path d="M730.5,456.5 L733.5,459.5 M730.5,459.5 L733.5,456.5" stroke="#989898" stroke-width="0.9" fill="none"/><text x="737.5" y="462.8" fill="#989898">溶剂型环氯富锌涂料</text></g>
<text x="1016" y="1537.3" text-anchor="end" font-family="'Liberation Serif',serif" font-size="9.73" font-weight="700" fill="#85888b">Technical Research and Development</text>
</svg>
</body>
</html>
